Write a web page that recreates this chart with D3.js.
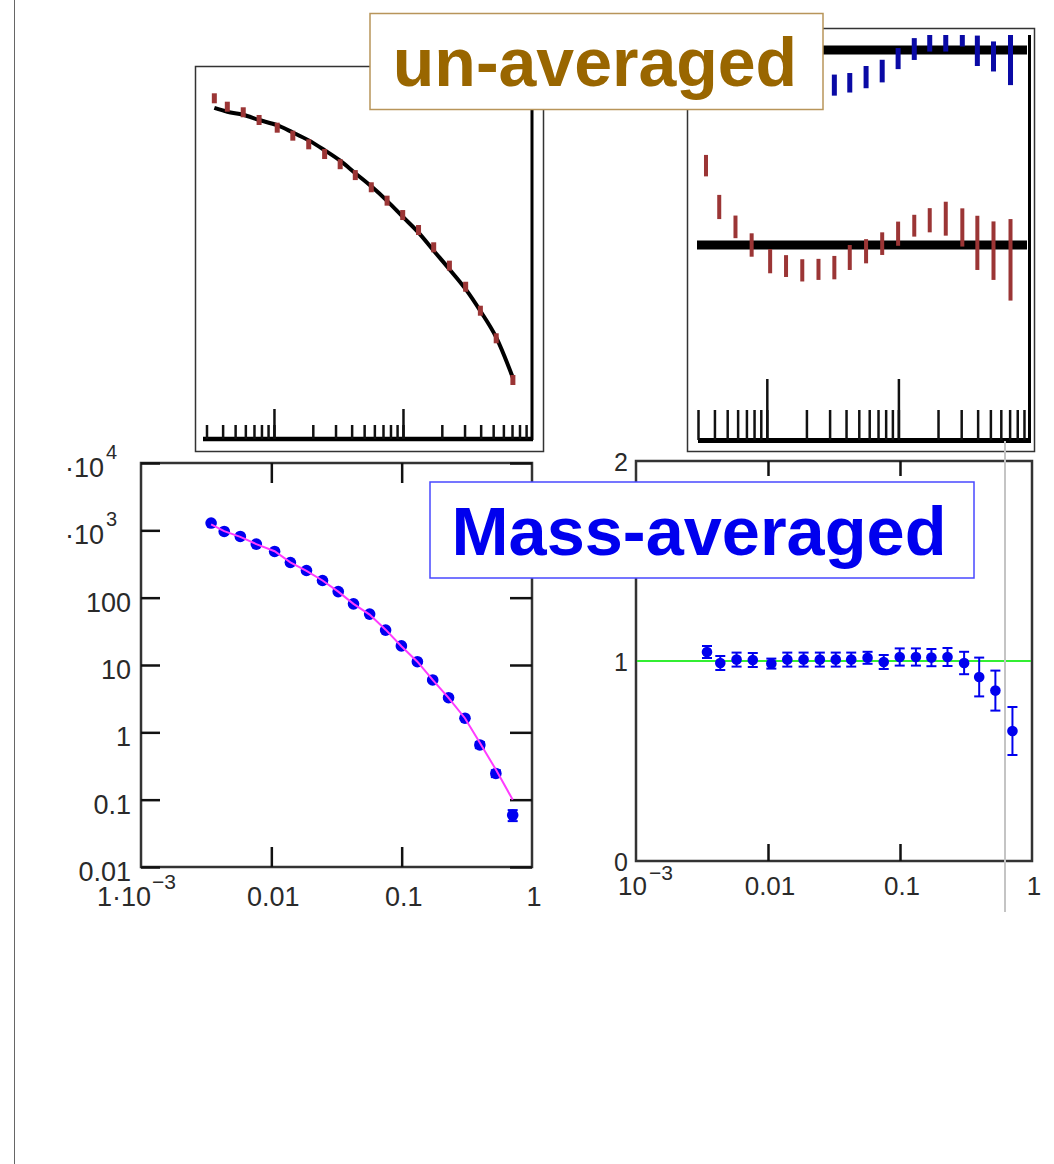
<!DOCTYPE html>
<html>
<head>
<meta charset="utf-8">
<script src="https://cdn.jsdelivr.net/npm/d3@7"></script>
<style>
body { margin: 0; background: #fff; }
svg { display: block; }
</style>
</head>
<body>
<svg id="chart" width="1054" height="1164"></svg>
<script>
// x positions of the 20 bins (same in every panel)
var xVals = [0.00345, 0.00435, 0.00578, 0.00767, 0.0106, 0.0140, 0.0186, 0.0247, 0.0326, 0.0427,
             0.0568, 0.0753, 0.0995, 0.132, 0.173, 0.229, 0.306, 0.398, 0.528, 0.711];

// mass-averaged spectrum (bottom left) and its fit
var massVals = [1282, 962, 811, 625, 486, 333, 253, 180, 123, 81,
                57, 33, 19.2, 11.2, 6.0, 3.27, 1.62, 0.65, 0.245, 0.059];
var massRelErr = [0.03, 0.035, 0.035, 0.035, 0.025, 0.035, 0.035, 0.035, 0.035, 0.035,
                  0.03, 0.035, 0.043, 0.043, 0.043, 0.045, 0.057, 0.105, 0.118, 0.186];
var fitVals = [1230, 975, 800, 625, 490, 335, 250, 180, 123, 81,
               56, 33.5, 19, 11.2, 6.0, 3.25, 1.62, 0.70, 0.28, 0.10];

// mass-averaged data / fit (bottom right)
var ratioVals = [1.045, 0.99, 1.007, 1.005, 0.987, 1.007, 1.007, 1.007, 1.007, 1.007,
                 1.016, 0.995, 1.02, 1.02, 1.017, 1.02, 0.99, 0.92, 0.852, 0.65];
var ratioErr = [0.03, 0.035, 0.035, 0.035, 0.025, 0.035, 0.035, 0.035, 0.035, 0.035,
                0.03, 0.035, 0.043, 0.043, 0.043, 0.045, 0.056, 0.097, 0.1, 0.12];

// un-averaged spectrum (top left inset) and its own fit curve
var unavgVals = [1807, 1342, 1101, 838, 638, 481, 354, 251, 175, 119,
                 77.3, 48.1, 28.9, 17.0, 9.22, 4.81, 2.28, 0.975, 0.367, 0.0838];
var unavgFit = [1284, 1123, 1007, 838, 696, 539, 407, 287, 198, 127,
                79.9, 47.8, 27.3, 15.5, 8.18, 4.24, 2.09, 0.964, 0.378, 0.0907];

// un-averaged residuals (top right inset), brown row and blue row
var residVals = [1.407, 1.195, 1.093, 1.0, 0.917, 0.892, 0.870, 0.875, 0.884, 0.936,
                 0.968, 1.007, 1.058, 1.099, 1.127, 1.135, 1.090, 1.011, 0.971, 0.924];
var residErr = [0.055, 0.062, 0.058, 0.06, 0.062, 0.056, 0.057, 0.054, 0.06, 0.064,
                0.062, 0.058, 0.062, 0.056, 0.062, 0.087, 0.098, 0.139, 0.15, 0.209];
var blueResid = [null, null, null, null, null, null, null, null, 0.820, 0.832,
                 0.861, 0.892, 0.956, 1.005, 1.042, 1.042, 1.068, 0.996, 0.967, 0.95];
var blueErr = [null, null, null, null, null, null, null, null, 0.054, 0.05,
               0.057, 0.058, 0.054, 0.056, 0.05, 0.05, 0.05, 0.078, 0.077, 0.13];

// tick labels
var leftYTicks = [0.01, 0.1, 1, 10, 100, 1000, 10000];
var leftYLabels = [["0.01"], ["0.1"], ["1"], ["10"], ["100"], ["·10", "3"], ["·10", "4"]];
var leftXTicks = [0.001, 0.01, 0.1, 1];
var leftXLabels = [["1·10", "−3"], ["0.01"], ["0.1"], ["1"]];
var rightYTicks = [0, 1, 2];
var rightYLabels = ["0", "1", "2"];
var rightXLabels = [["10", "−3"], ["0.01"], ["0.1"], ["1"]];
var majorTicks = [0.01, 0.1];

var FONT = "'Liberation Sans', Arial, sans-serif";
var svg = d3.select("#chart");

// page edge line
svg.append("line").attr("x1", 14.5).attr("x2", 14.5).attr("y1", 0).attr("y2", 1164)
	.attr("stroke", "#666").attr("stroke-width", 1);

function styleTicks(g, w) {
	g.select(".domain").remove();
	g.selectAll(".tick line").attr("stroke", "#111").attr("stroke-width", w);
}

//---------------- top left inset: un-averaged spectrum
svg.append("rect").attr("x", 195.5).attr("y", 66.5).attr("width", 348).attr("height", 385)
	.attr("fill", "#fff").attr("stroke", "#333").attr("stroke-width", 1.5);

var xTL = d3.scaleLog().domain([0.003, 1]).range([206.5, 532]);
var yTL = d3.scaleLog().domain([0.01, 1e4]).range([440, 50]);
var tlTicks = xTL.ticks().filter(function(d) { return d < 0.95; });

svg.append("line").attr("x1", 532).attr("x2", 532).attr("y1", 75).attr("y2", 440)
	.attr("stroke", "#000").attr("stroke-width", 3);
svg.append("line").attr("x1", 203).attr("x2", 533).attr("y1", 439).attr("y2", 439)
	.attr("stroke", "#000").attr("stroke-width", 4.5);
svg.append("g").attr("transform", "translate(0,439)")
	.call(d3.axisBottom(xTL).tickValues(tlTicks).tickSize(-14).tickFormat(""))
	.call(styleTicks, 2.5);
svg.append("g").attr("transform", "translate(0,439)")
	.call(d3.axisBottom(xTL).tickValues(majorTicks).tickSize(-30).tickFormat(""))
	.call(styleTicks, 2.5);

svg.append("path").datum(unavgFit)
	.attr("d", d3.line().x(function(d, i) { return xTL(xVals[i]); }).y(function(d) { return yTL(d); })
		.curve(d3.curveMonotoneX))
	.attr("fill", "none").attr("stroke", "#000").attr("stroke-width", 4);

svg.append("g").selectAll("rect").data(unavgVals).enter().append("rect")
	.attr("x", function(d, i) { return xTL(xVals[i]) - 2.5; })
	.attr("y", function(d) { return yTL(d) - 5; })
	.attr("width", 5).attr("height", 10)
	.attr("fill", "#9b3535");

//---------------- top right inset: un-averaged residuals
svg.append("rect").attr("x", 687.5).attr("y", 28.5).attr("width", 347).attr("height", 423)
	.attr("fill", "#fff").attr("stroke", "#333").attr("stroke-width", 1.5);

var xTR = d3.scaleLog().domain([0.003, 1]).range([698, 1030]);
var yTR = d3.scaleLinear().domain([0, 2.077]).range([440, 35]);
var trTicks = xTR.ticks().filter(function(d) { return d < 0.95; });

svg.append("clipPath").attr("id", "trclip").append("rect")
	.attr("x", 688).attr("y", 35).attr("width", 342).attr("height", 405);
var tr = svg.append("g").attr("clip-path", "url(#trclip)");

[1, 2].forEach(function(v) {
	tr.append("line").attr("x1", 697).attr("x2", 1027).attr("y1", yTR(v)).attr("y2", yTR(v))
		.attr("stroke", "#000").attr("stroke-width", 9);
});

tr.append("g").selectAll("rect").data(residVals).enter().append("rect")
	.attr("x", function(d, i) { return xTR(xVals[i]) - 2; })
	.attr("y", function(d, i) { return yTR(d + residErr[i]); })
	.attr("width", 4)
	.attr("height", function(d, i) { return yTR(d - residErr[i]) - yTR(d + residErr[i]); })
	.attr("fill", "#9b3535");

var blueIdx = d3.range(xVals.length).filter(function(i) { return blueResid[i] !== null; });
tr.append("g").selectAll("rect").data(blueIdx).enter().append("rect")
	.attr("x", function(i) { return xTR(xVals[i]) - 2.5; })
	.attr("y", function(i) { return yTR(1 + blueResid[i] + blueErr[i]); })
	.attr("width", 5)
	.attr("height", function(i) { return yTR(1 + blueResid[i] - blueErr[i]) - yTR(1 + blueResid[i] + blueErr[i]); })
	.attr("fill", "#0a0aa5");

svg.append("line").attr("x1", 1029.5).attr("x2", 1029.5).attr("y1", 35).attr("y2", 441)
	.attr("stroke", "#000").attr("stroke-width", 3);
svg.append("line").attr("x1", 698).attr("x2", 1031).attr("y1", 440.5).attr("y2", 440.5)
	.attr("stroke", "#000").attr("stroke-width", 5);
svg.append("g").attr("transform", "translate(0,440)")
	.call(d3.axisBottom(xTR).tickValues(trTicks).tickSize(-30).tickFormat(""))
	.call(styleTicks, 2.5);
svg.append("g").attr("transform", "translate(0,440)")
	.call(d3.axisBottom(xTR).tickValues(majorTicks).tickSize(-61).tickFormat(""))
	.call(styleTicks, 2.5);

//---------------- bottom left: mass-averaged spectrum
var xL = d3.scaleLog().domain([0.001, 1]).range([141, 532]);
var yL = d3.scaleLog().domain([0.01, 1e4]).range([867, 463]);

svg.append("rect").attr("x", 141).attr("y", 463).attr("width", 391).attr("height", 404)
	.attr("fill", "none").attr("stroke", "#333").attr("stroke-width", 2.5);
svg.append("g").attr("transform", "translate(141,0)")
	.call(d3.axisLeft(yL).tickValues(leftYTicks).tickSize(-19).tickFormat("")).call(styleTicks, 2.5);
svg.append("g").attr("transform", "translate(532,0)")
	.call(d3.axisRight(yL).tickValues(leftYTicks).tickSize(-22).tickFormat("")).call(styleTicks, 2.5);
svg.append("g").attr("transform", "translate(0,463)")
	.call(d3.axisTop(xL).tickValues(majorTicks).tickSize(-20).tickFormat("")).call(styleTicks, 2.5);
svg.append("g").attr("transform", "translate(0,867)")
	.call(d3.axisBottom(xL).tickValues(majorTicks).tickSize(-20).tickFormat("")).call(styleTicks, 2.5);

var lErr = svg.append("g").attr("stroke", "#0000f0").attr("stroke-width", 2);
massVals.forEach(function(v, i) {
	var cx = xL(xVals[i]), hi = yL(v * (1 + massRelErr[i])), lo = yL(v * (1 - massRelErr[i]));
	lErr.append("line").attr("x1", cx).attr("x2", cx).attr("y1", hi).attr("y2", lo);
	lErr.append("line").attr("x1", cx - 5).attr("x2", cx + 5).attr("y1", hi).attr("y2", hi);
	lErr.append("line").attr("x1", cx - 5).attr("x2", cx + 5).attr("y1", lo).attr("y2", lo);
});
svg.append("g").selectAll("circle").data(massVals).enter().append("circle")
	.attr("cx", function(d, i) { return xL(xVals[i]); })
	.attr("cy", function(d) { return yL(d); })
	.attr("r", 5.8).attr("fill", "#0000f0");
svg.append("path").datum(fitVals)
	.attr("d", d3.line().x(function(d, i) { return xL(xVals[i]); }).y(function(d) { return yL(d); }))
	.attr("fill", "none").attr("stroke", "#ff3cff").attr("stroke-width", 2);

//---------------- bottom right: ratio
var xR = d3.scaleLog().domain([0.001, 1]).range([636, 1032]);
var yR = d3.scaleLinear().domain([0, 2]).range([861, 461]);

svg.append("rect").attr("x", 636).attr("y", 461).attr("width", 396).attr("height", 400)
	.attr("fill", "none").attr("stroke", "#333").attr("stroke-width", 2.5);
svg.append("g").attr("transform", "translate(0,461)")
	.call(d3.axisTop(xR).tickValues(majorTicks).tickSize(-15).tickFormat("")).call(styleTicks, 2.5);
svg.append("g").attr("transform", "translate(0,861)")
	.call(d3.axisBottom(xR).tickValues(majorTicks).tickSize(-17).tickFormat("")).call(styleTicks, 2.5);

svg.append("line").attr("x1", 637).attr("x2", 1031).attr("y1", yR(1)).attr("y2", yR(1))
	.attr("stroke", "#33ee33").attr("stroke-width", 2);

var rErr = svg.append("g").attr("stroke", "#0000ee").attr("stroke-width", 2);
ratioVals.forEach(function(v, i) {
	var cx = xR(xVals[i]), hi = yR(v + ratioErr[i]), lo = yR(v - ratioErr[i]);
	rErr.append("line").attr("x1", cx).attr("x2", cx).attr("y1", hi).attr("y2", lo);
	rErr.append("line").attr("x1", cx - 5).attr("x2", cx + 5).attr("y1", hi).attr("y2", hi);
	rErr.append("line").attr("x1", cx - 5).attr("x2", cx + 5).attr("y1", lo).attr("y2", lo);
});
svg.append("g").selectAll("circle").data(ratioVals).enter().append("circle")
	.attr("cx", function(d, i) { return xR(xVals[i]); })
	.attr("cy", function(d) { return yR(d); })
	.attr("r", 5.3).attr("fill", "#0000ee");

// grey marker line
svg.append("line").attr("x1", 1005).attr("x2", 1005).attr("y1", 441).attr("y2", 912)
	.attr("stroke", "#c4c4c4").attr("stroke-width", 2);

//---------------- tick labels
function label(x, y, text, anchor, size) {
	return svg.append("text").attr("x", x).attr("y", y).attr("text-anchor", anchor)
		.attr("font-family", FONT).attr("font-size", size).attr("fill", "#2a2a2a").text(text);
}

leftYTicks.forEach(function(v, i) {
	var p = leftYLabels[i], y = yL(v) + 14;
	if (p[1]) {
		label(104, y, p[0], "end", 27);
		label(106, y - 18, p[1], "start", 20);
	} else {
		label(131, y, p[0], "end", 27);
	}
});
leftXTicks.forEach(function(v, i) {
	var p = leftXLabels[i], x = xL(v);
	if (p[1]) {
		label(x + 10, 906, p[0], "end", 27);
		label(x + 11, 889, p[1], "start", 21);
	} else {
		label(x + 2, 906, p[0], "middle", 27);
	}
});
rightYTicks.forEach(function(v, i) {
	label(621, yR(v) + 10, rightYLabels[i], "middle", 25);
});
leftXTicks.forEach(function(v, i) {
	var p = rightXLabels[i], x = xR(v);
	if (p[1]) {
		label(x + 11, 895, p[0], "end", 26);
		label(x + 13, 880, p[1], "start", 21);
	} else {
		label(x + 2, 895, p[0], "middle", 26);
	}
});

//---------------- title boxes
svg.append("rect").attr("x", 370).attr("y", 13.5).attr("width", 453).attr("height", 96)
	.attr("fill", "#fff").attr("stroke", "#b8955a").attr("stroke-width", 1.5);
svg.append("text").attr("x", 595).attr("y", 86).attr("text-anchor", "middle")
	.attr("font-family", FONT).attr("font-weight", "bold").attr("font-size", 68)
	.attr("fill", "#996600").text("un-averaged");

svg.append("rect").attr("x", 430).attr("y", 482).attr("width", 544).attr("height", 96)
	.attr("fill", "#fff").attr("stroke", "#4848ff").attr("stroke-width", 1.5);
svg.append("text").attr("x", 699).attr("y", 555).attr("text-anchor", "middle")
	.attr("font-family", FONT).attr("font-weight", "bold").attr("font-size", 68.5)
	.attr("fill", "#0000ee").text("Mass-averaged");
</script>
</body>
</html>
